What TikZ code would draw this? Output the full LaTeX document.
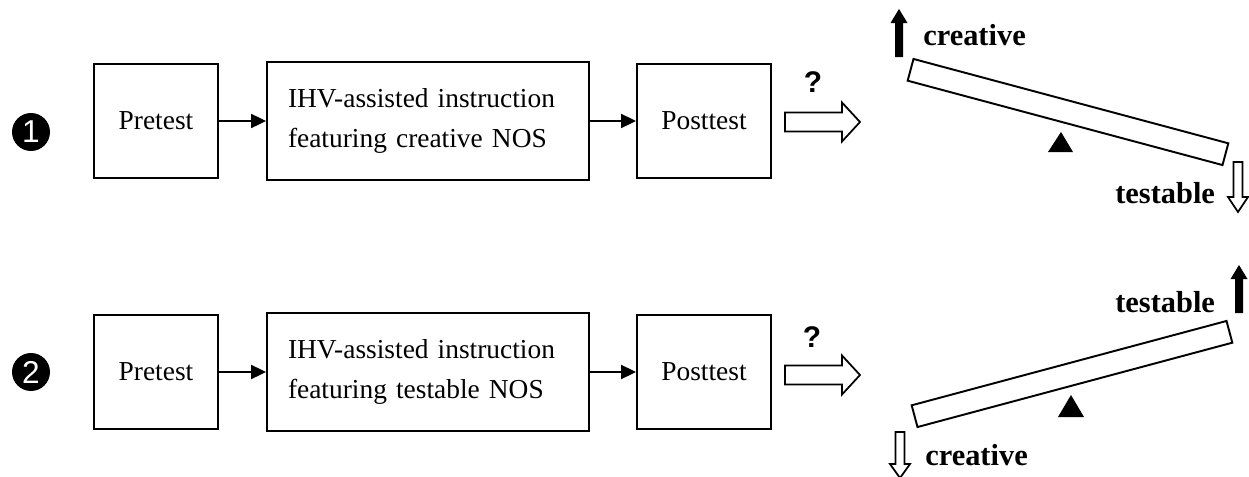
\documentclass[tikz,border=0pt]{standalone}
\usepackage{fontspec}
\setmainfont{Liberation Serif}
\setsansfont{Liberation Sans}
\usepackage{tikz}
\usetikzlibrary{arrows.meta, positioning}

\tikzset{
  stage/.style={draw, line width=1.1pt, minimum height=2.28cm, inner sep=0pt,
    font=\fontsize{15.6}{22.7}\selectfont},
  link/.style={line width=0.9pt, -{Triangle[length=8.5pt,width=8pt]}},
  beam/.style={draw, line width=1.1pt, fill=white, minimum width=6.52cm,
    minimum height=0.45cm, inner sep=0pt},
  side/.style={font=\fontsize{17.3}{20}\selectfont\bfseries, inner sep=0pt, anchor=base west},
  numeral/.style={circle, fill=black, text=white, minimum size=0.76cm, inner sep=0pt,
    font=\fontsize{18}{18}\selectfont\sffamily},
  query/.style={font=\fontsize{17}{17}\selectfont\sffamily\bfseries, inner sep=0pt},
  pics/hollowarrow/.style n args={4}{code={
    \draw[line width=1pt, fill=white] (0,-#2) -- ({#1-#4},-#2) -- ({#1-#4},-#3) -- (#1,0)
      -- ({#1-#4},#3) -- ({#1-#4},#2) -- (0,#2) -- cycle;}},
  pics/solidarrow/.style n args={4}{code={
    \fill (0,-#2) -- ({#1-#4},-#2) -- ({#1-#4},-#3) -- (#1,0)
      -- ({#1-#4},#3) -- ({#1-#4},#2) -- (0,#2) -- cycle;}}
}

\begin{document}
\begin{tikzpicture}[x=0.02cm, y=-0.02cm]
\useasboundingbox (0,0) rectangle (1249,477);

% Group 1: creative NOS
\node[numeral] (num1) at (31,132) {1};
\node[stage, minimum width=2.48cm] (pre1) at (156,121) {Pretest};
\node[stage, minimum width=6.44cm, minimum height=2.36cm, text width=5.6cm, align=left]
  (ihv1) at (428,121) {IHV-assisted instruction\\featuring creative NOS};
\node[stage, minimum width=2.68cm] (post1) at (704,121) {Posttest};
\draw[link] (pre1) -- (ihv1);
\draw[link] (ihv1) -- (post1);

\node[query] (q1) at (813,82) {?};
\pic at (785,122) {hollowarrow={75}{9.5}{19.5}{18}};

\node[beam, rotate=-15] (beam1) at (1068,112) {};
\fill (1048,152) -- (1061,132) -- (1073,152) -- cycle;
\pic[rotate=90] at (899,57) {solidarrow={48}{4}{8.5}{14}};
\node[side] (crea1) at (923,45) {creative};
\node[side] (test1) at (1115,203) {testable};
\pic[rotate=-90] at (1238,162) {hollowarrow={50}{4.5}{10}{15}};

% Group 2: testable NOS
\node[numeral] (num2) at (31,372) {2};
\node[stage, minimum width=2.48cm] (pre2) at (156,372) {Pretest};
\node[stage, minimum width=6.44cm, minimum height=2.36cm, text width=5.6cm, align=left]
  (ihv2) at (428,372) {IHV-assisted instruction\\featuring testable NOS};
\node[stage, minimum width=2.68cm] (post2) at (704,372) {Posttest};
\draw[link] (pre2) -- (ihv2);
\draw[link] (ihv2) -- (post2);

\node[query] (q2) at (812,337) {?};
\pic at (785,375) {hollowarrow={75}{9.5}{19.5}{18}};

\node[beam, rotate=15] (beam2) at (1072,374) {};
\fill (1058,417) -- (1071,395) -- (1084,417) -- cycle;
\pic[rotate=90] at (1239,313) {solidarrow={48}{4}{8.5}{14}};
\node[side] (test2) at (1115,312) {testable};
\node[side] (crea2) at (925,465) {creative};
\pic[rotate=-90] at (900,432) {hollowarrow={46}{4.5}{10}{14}};
\end{tikzpicture}
\end{document}
